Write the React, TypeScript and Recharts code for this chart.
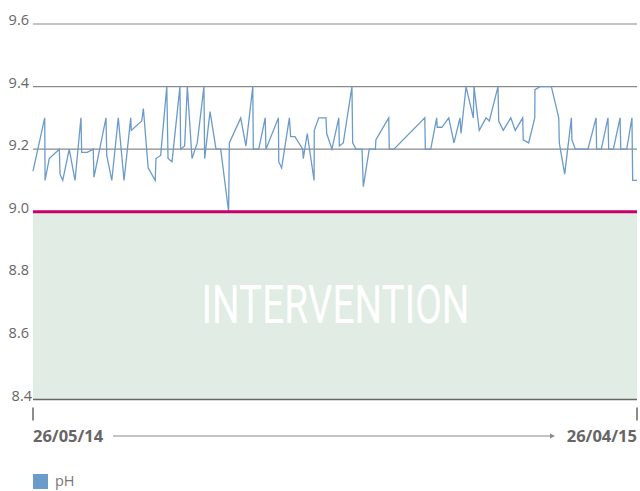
import React from 'react';
import {
  ComposedChart,
  Line,
  XAxis,
  YAxis,
  CartesianGrid,
  ReferenceArea,
  ReferenceLine,
  Legend,
} from 'recharts';

// Day offsets from 26/05/14
const days: number[] = [
  0, 6.5, 6.7, 9.0, 14.6, 15.0, 16.5, 20.1, 23.3, 26.6, 27.0, 30.1, 33.4, 33.8, 40.5, 40.9, 43.7, 47.3, 50.5, 54.2,
  54.5, 60.3, 61.2, 63.9, 67.8, 68.2, 70.8, 74.2, 74.9, 77.1, 81.5, 81.9, 84.1, 85.6, 88.2, 91.1, 94.8, 95.2, 98.2, 101.5,
  104.1, 108.5, 108.9, 115.2, 118.1, 121.9, 122.2, 125.2, 128.8, 129.2, 136.1, 136.3, 137.9, 142.2, 142.9, 145.3, 149.6, 149.9, 152.1, 155.9,
  156.0, 158.5, 162.5, 162.9, 165.8, 169.6, 169.9, 172.1, 176.9, 177.3, 179.1, 182.5, 183.2, 186.5, 189.9, 190.2, 197.3, 197.6, 200.2, 217.3,
  217.6, 220.6, 223.9, 224.2, 226.8, 230.6, 233.5, 236.8, 237.4, 240.2, 244.2, 244.6, 247.5, 251.3, 253.1, 257.9, 258.3, 260.8, 265.0, 267.5,
  271.6, 271.9, 274.9, 278.3, 278.4, 281.2, 287.5, 291.6, 291.9, 294.9, 298.6, 298.9, 300.8, 307.8, 312.3, 312.6, 315.2, 318.9, 319.3, 321.9,
  325.6, 326.0, 329.3, 332.2, 332.6, 335,
];

const phValues: number[] = [
  9.13, 9.3, 9.1, 9.17, 9.2, 9.12, 9.1, 9.2, 9.1, 9.3, 9.19, 9.19, 9.2, 9.11, 9.3, 9.18, 9.1, 9.3, 9.1, 9.3,
  9.26, 9.29, 9.33, 9.14, 9.1, 9.17, 9.18, 9.4, 9.17, 9.16, 9.4, 9.2, 9.21, 9.4, 9.17, 9.22, 9.4, 9.17, 9.32, 9.2,
  9.2, 9.0, 9.22, 9.3, 9.21, 9.4, 9.2, 9.2, 9.3, 9.2, 9.3, 9.16, 9.14, 9.3, 9.24, 9.24, 9.2, 9.17, 9.25, 9.1,
  9.26, 9.3, 9.3, 9.25, 9.2, 9.3, 9.21, 9.22, 9.4, 9.22, 9.2, 9.2, 9.08, 9.2, 9.2, 9.23, 9.3, 9.2, 9.2, 9.3,
  9.2, 9.2, 9.3, 9.27, 9.27, 9.3, 9.22, 9.3, 9.25, 9.4, 9.3, 9.4, 9.26, 9.3, 9.29, 9.4, 9.29, 9.26, 9.3, 9.26,
  9.3, 9.23, 9.22, 9.3, 9.39, 9.4, 9.4, 9.3, 9.22, 9.12, 9.3, 9.23, 9.2, 9.2, 9.3, 9.2, 9.2, 9.3, 9.2, 9.2,
  9.3, 9.2, 9.2, 9.3, 9.1, 9.1,
];

const yTicks: number[] = [8.4, 8.6, 8.8, 9.0, 9.2, 9.4, 9.6];
const xTicks: number[] = [0, 335];
const xTickLabels: string[] = ['26/05/14', '26/04/15'];
const seriesName = 'pH';
const bandLabel = 'INTERVENTION';
const threshold = 9.0;
const yMin = 8.4;
const yMax = 9.6;

const data = days.map((d, i) => ({ day: d, ph: phValues[i] }));

const FONT = '"Open Sans", "Noto Sans", sans-serif';
const LINE_COLOR = '#6b9bcb';

const YTick = (props: any) => {
  const { y, payload } = props;
  const v = payload.value as number;
  const isLast = Math.abs(v - yMin) < 1e-6;
  return (
    <text
      x={isLast ? 32 : 29}
      y={y + 1}
      textAnchor="end"
      fontFamily={FONT}
      fontSize={14.5}
      fill="#666"
    >
      {v.toFixed(1)}
    </text>
  );
};

const XTick = (props: any) => {
  const { x, y, index } = props;
  const first = index === 0;
  return (
    <g>
      <line x1={x} x2={x} y1={y + 8} y2={y + 21} stroke="#666" strokeWidth={1.5} />
      <text
        x={x}
        y={y + 42.5}
        textAnchor={first ? 'start' : 'end'}
        fontFamily={FONT}
        fontSize={16.5}
        fontWeight={700}
        fill="#666"
      >
        {xTickLabels[index]}
      </text>
    </g>
  );
};

const ArrowLabel = (props: any) => {
  const vb = props.viewBox || {};
  const x0 = (vb.x ?? 33) + 80;
  const x1 = (vb.x ?? 33) + (vb.width ?? 604) - 82;
  const y = (vb.y ?? 399.5) + 36.5;
  return (
    <g>
      <line x1={x0} x2={x1 - 4} y1={y} y2={y} stroke="#888" strokeWidth={1} />
      <path d={`M${x1 - 5},${y - 2.5} L${x1},${y} L${x1 - 5},${y + 2.5} Z`} fill="#888" />
    </g>
  );
};

const BandLabel = (props: any) => {
  const vb = props.viewBox || {};
  const cx = vb.x + vb.width / 2 + 0.5;
  const cy = vb.y + vb.height / 2;
  return (
    <text
      x={cx}
      y={cy + 17.5}
      textAnchor="middle"
      fontFamily='Roboto, "Open Sans", sans-serif'
      fontWeight={400}
      fontSize={53}
      fill="#ffffff"
      textLength={268}
      lengthAdjust="spacingAndGlyphs"
    >
      {bandLabel}
    </text>
  );
};

const LegendContent = () => (
  <div style={{ display: 'flex', alignItems: 'center', fontFamily: FONT }}>
    <div style={{ width: 15, height: 15, background: LINE_COLOR, marginRight: 7 }} />
    <span style={{ fontSize: 14.5, color: '#777', lineHeight: '18px' }}>{seriesName}</span>
  </div>
);

export default function App() {
  return (
    <div style={{ position: 'absolute', left: 0, top: 0, width: 640, height: 491, background: '#fff' }}>
      <ComposedChart
        width={640}
        height={491}
        data={data}
        margin={{ top: 24, right: 3, bottom: 61.5, left: 0 }}
      >
        <ReferenceArea
          y1={yMin}
          y2={threshold}
          fill="#e1ece4"
          fillOpacity={1}
          stroke="none"
          ifOverflow="extendDomain"
          label={<BandLabel />}
        />
        <CartesianGrid vertical={false} stroke="#8a8a8a" strokeWidth={1.2} />
        <XAxis
          dataKey="day"
          type="number"
          domain={[0, 335]}
          ticks={xTicks}
          axisLine={false}
          tickLine={false}
          tickSize={0}
          tickMargin={0}
          height={30}
          interval={0}
          tick={<XTick />}
          label={<ArrowLabel />}
        />
        <YAxis
          domain={[yMin, yMax]}
          ticks={yTicks}
          axisLine={false}
          tickLine={false}
          width={33}
          interval={0}
          tick={<YTick />}
        />
        <ReferenceLine y={yMin} stroke="#666" strokeWidth={1.5} />
        <Line
          type="linear"
          dataKey="ph"
          name={seriesName}
          stroke={LINE_COLOR}
          strokeWidth={1.3}
          dot={false}
          activeDot={false}
          isAnimationActive={false}
        />
        <ReferenceLine y={threshold} stroke="#c8006b" strokeWidth={3} />
        <Legend
          layout="horizontal"
          verticalAlign="middle"
          align="center"
          content={<LegendContent />}
          wrapperStyle={{ left: 33, top: 472, width: 'auto', height: 'auto', bottom: 'auto' }}
        />
      </ComposedChart>
    </div>
  );
}
